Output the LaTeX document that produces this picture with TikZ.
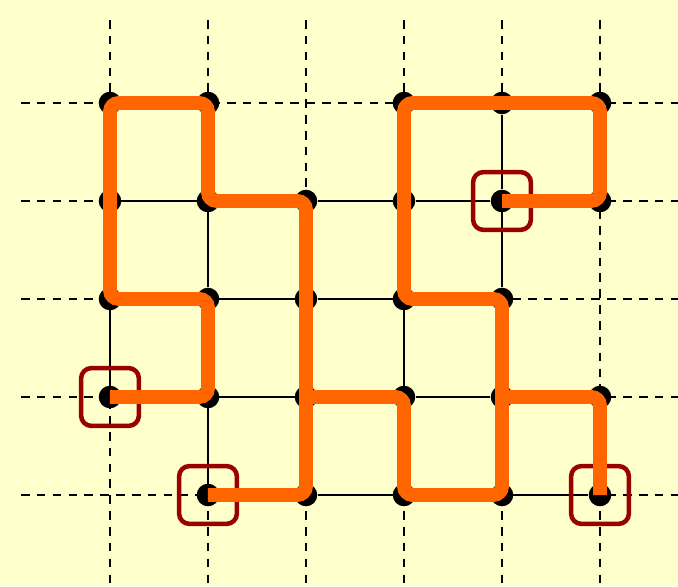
\documentclass[tikz,border=0pt]{standalone}
\usepackage{tikz}
\usetikzlibrary{calc}
\definecolor{bgyellow}{RGB}{255,255,204}
\definecolor{pathorange}{RGB}{255,102,0}
\definecolor{boxred}{RGB}{153,0,0}

\begin{document}
\begin{tikzpicture}[x=1cm,y=1cm,
  gridline/.style={black,line width=0.75pt,dash pattern=on 2.5pt off 2.1pt},
  graphedge/.style={black,line width=0.7pt},
  vertex/.style={circle,fill=black,inner sep=0pt,minimum size=0.23cm},
  startbox/.style={draw=boxred,line width=1.3pt,rounded corners=3pt,minimum size=0.59cm,inner sep=0pt},
  route/.style={pathorange,line width=4pt,rounded corners=2.5pt}]
  \path[use as bounding box,fill=bgyellow] (-1.1224,-0.9286) rectangle (5.7959,5.051);

  % dashed background grid
  \foreach \y in {0,...,4}
    \draw[gridline] (-0.908,\y) -- (5.8,\y);
  \foreach \x in {0,...,5}
    \draw[gridline] (\x,4.847) -- (\x,-0.93);

  % vertices
  \foreach \x/\y in {0/4,1/4,3/4,4/4,5/4, 0/3,1/3,2/3,3/3,4/3,5/3, 0/2,1/2,2/2,3/2,4/2,
                     0/1,1/1,2/1,3/1,4/1,5/1, 1/0,2/0,3/0,4/0,5/0}
    \node[vertex] (v-\x-\y) at (\x,\y) {};

  % grid edges
  \foreach \x/\y in {0/4,3/4,4/4, 0/3,1/3,2/3,3/3,4/3, 0/2,1/2,2/2,3/2,
                     0/1,1/1,2/1,3/1,4/1, 1/0,2/0,3/0,4/0}{
    \pgfmathtruncatemacro{\xn}{\x+1}
    \draw[graphedge] (v-\x-\y) -- (v-\xn-\y);
  }
  \foreach \x/\y in {0/1,0/2,0/3, 1/0,1/1,1/2,1/3, 2/0,2/1,2/2,
                     3/0,3/1,3/2,3/3, 4/0,4/1,4/2,4/3, 5/0,5/3}{
    \pgfmathtruncatemacro{\yn}{\y+1}
    \draw[graphedge] (v-\x-\y) -- (v-\x-\yn);
  }

  % start boxes
  \node[startbox] (s1) at (v-0-1) {};
  \node[startbox] (s2) at (v-1-0) {};
  \node[startbox] (s3) at (v-4-3) {};
  \node[startbox] (s4) at (v-5-0) {};

  % routes
  \draw[route] (v-0-1.center) -- (v-1-1.center) -- (v-1-2.center) -- (v-0-2.center)
    -- (v-0-4.center) -- (v-1-4.center) -- (v-1-3.center) -- (v-2-3.center)
    -- (v-2-0.center) -- (v-1-0.center);
  \draw[route] (v-4-3.center) -- (v-5-3.center) -- (v-5-4.center) -- (v-3-4.center)
    -- (v-3-2.center) -- (v-4-2.center) -- (v-4-0.center) -- (v-3-0.center)
    -- (v-3-1.center) -- (v-2-1.center);
  \draw[route] (v-5-0.center) -- (v-5-1.center) -- (v-4-1.center);
\end{tikzpicture}
\end{document}
